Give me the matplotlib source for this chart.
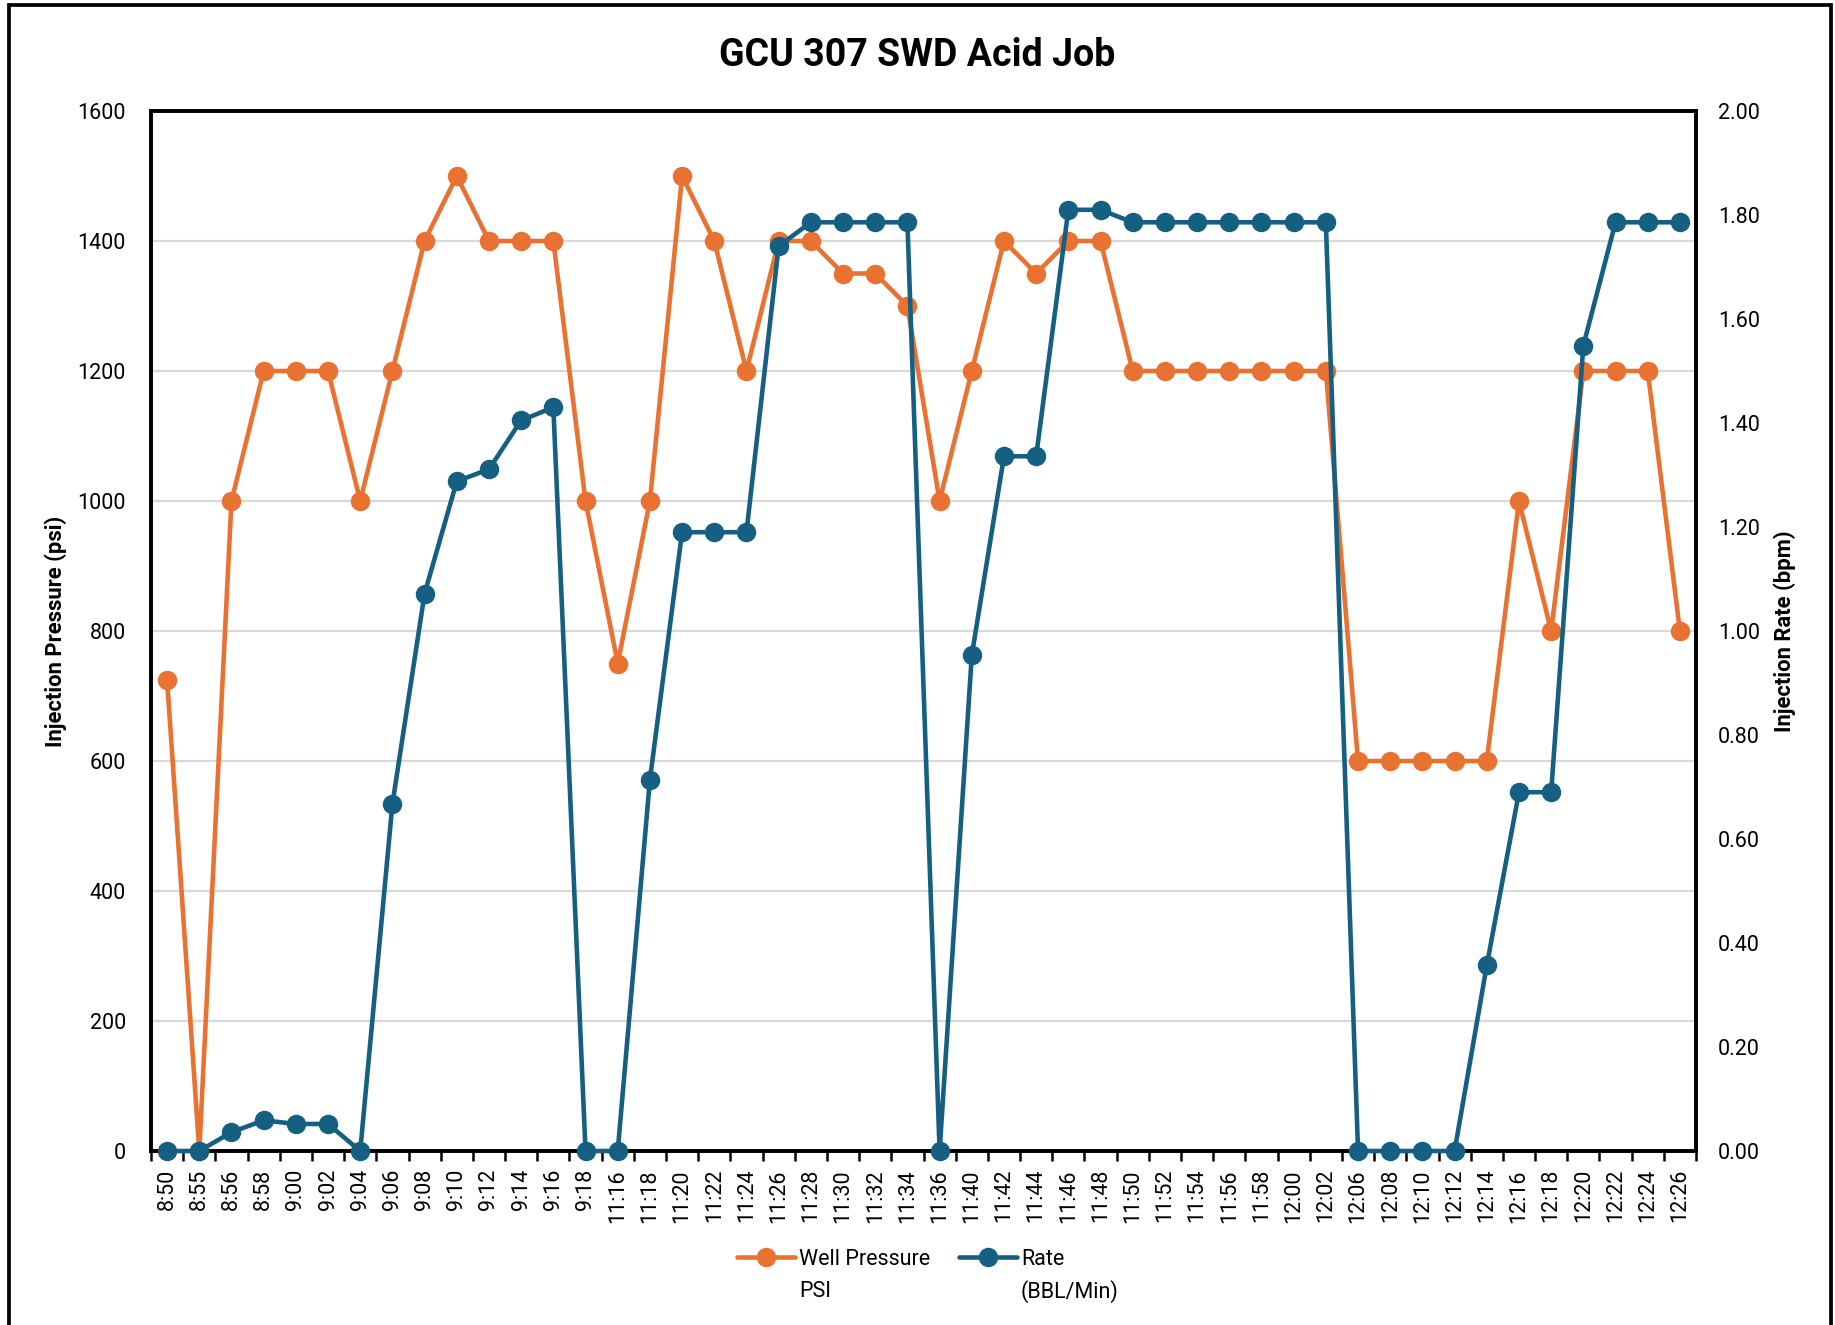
import matplotlib
matplotlib.use("Agg")
import matplotlib.pyplot as plt
import numpy as np
from matplotlib.patches import Rectangle
from matplotlib.ticker import FormatStrFormatter, FixedLocator

times = ["8:50", "8:55", "8:56", "8:58", "9:00", "9:02", "9:04", "9:06", "9:08", "9:10",
         "9:12", "9:14", "9:16", "9:18", "11:16", "11:18", "11:20", "11:22", "11:24", "11:26",
         "11:28", "11:30", "11:32", "11:34", "11:36", "11:40", "11:42", "11:44", "11:46", "11:48",
         "11:50", "11:52", "11:54", "11:56", "11:58", "12:00", "12:02", "12:06", "12:08", "12:10",
         "12:12", "12:14", "12:16", "12:18", "12:20", "12:22", "12:24", "12:26"]

well_pressure = [725, 0, 1000, 1200, 1200, 1200, 1000, 1200, 1400, 1500,
                 1400, 1400, 1400, 1000, 750, 1000, 1500, 1400, 1200, 1400,
                 1400, 1350, 1350, 1300, 1000, 1200, 1400, 1350, 1400, 1400,
                 1200, 1200, 1200, 1200, 1200, 1200, 1200, 600, 600, 600,
                 600, 600, 1000, 800, 1200, 1200, 1200, 800]

rate = [0.0, 0.0, 0.036, 0.059, 0.052, 0.052, 0.0, 0.667, 1.072, 1.288,
        1.311, 1.405, 1.43, 0.0, 0.0, 0.714, 1.19, 1.19, 1.19, 1.74,
        1.786, 1.786, 1.786, 1.786, 0.0, 0.953, 1.336, 1.336, 1.81, 1.81,
        1.786, 1.786, 1.786, 1.786, 1.786, 1.786, 1.786, 0.0, 0.0, 0.0,
        0.0, 0.357, 0.69, 0.69, 1.549, 1.786, 1.786, 1.786]

pressure_ticks = list(range(0, 1601, 200))
rate_ticks = [0.0, 0.2, 0.4, 0.6, 0.8, 1.0, 1.2, 1.4, 1.6, 1.8, 2.0]

ORANGE = "#E97132"
BLUE = "#156082"

plt.rcParams['font.family'] = ['Roboto', 'DejaVu Sans']

W, H = 1835, 1325
fig = plt.figure(figsize=(W / 100, H / 100), dpi=100)
ax_left, ax_right, ax_top, ax_bot = 151, 1696, 111, 1151
ax = fig.add_axes([ax_left / W, 1 - ax_bot / H, (ax_right - ax_left) / W, (ax_bot - ax_top) / H])
ax2 = ax.twinx()

x = np.arange(len(times))
l1, = ax.plot(x, well_pressure, color=ORANGE, lw=3.3, marker='o', ms=13,
              clip_on=False, zorder=3, solid_capstyle='round')
l2, = ax2.plot(x, rate, color=BLUE, lw=3.3, marker='o', ms=13,
               clip_on=False, zorder=3, solid_capstyle='round')

ax.set_xlim(-0.5, len(times) - 0.5)
ax.set_ylim(0, 1600)
ax.set_yticks(pressure_ticks)
ax2.set_ylim(0, 2.0)
ax2.set_yticks(rate_ticks)
ax2.yaxis.set_major_formatter(FormatStrFormatter('%.2f'))

ax.yaxis.grid(True, color='#D9D9D9', lw=1.6)
ax.set_axisbelow(True)

# category ticks between categories, labels at category centers
ax.xaxis.set_major_locator(FixedLocator(np.arange(-0.5, len(times), 1.0)))
ax.xaxis.set_major_formatter(plt.NullFormatter())
ax.xaxis.set_minor_locator(FixedLocator(x))
ax.set_xticks(x, times, minor=True, rotation=90)
ax.tick_params(axis='x', which='major', length=7, width=1.8, color='black', direction='out')
ax.tick_params(axis='x', which='minor', length=0, pad=13, labelsize=15.5)
ax.tick_params(axis='y', length=0, labelsize=15.5, pad=18)
ax2.tick_params(axis='y', length=0, labelsize=15.5, pad=16)

for a in (ax, ax2):
    for s in a.spines.values():
        s.set_linewidth(2.6)
        s.set_color('black')

ax.set_ylabel("Injection Pressure (psi)", fontsize=15.8, fontweight='bold')
ax.yaxis.set_label_coords((67 - ax_left) / (ax_right - ax_left), 0.5)
ax2.set_ylabel("Injection Rate (bpm)", fontsize=15.8, fontweight='bold')
ax2.yaxis.set_label_coords((1773 - ax_left) / (ax_right - ax_left), 0.5)

fig.text(0.5, 1 - 55 / H, "GCU 307 SWD Acid Job", ha='center', va='center',
         fontsize=27, fontweight='bold')

# Outer border
fig.patches.append(Rectangle((9 / W, -0.05), (1830.5 - 9) / W, 1.05 - 5.5 / H,
                             transform=fig.transFigure, fill=False,
                             edgecolor='black', lw=2.7, clip_on=False))

leg = fig.legend([l1, l2], ["Well Pressure", "Rate"], loc='upper left',
                 bbox_to_anchor=(737 / W, 1 - 1249 / H), ncol=2, frameon=False,
                 fontsize=15.5, handlelength=2.7, handletextpad=0.2,
                 columnspacing=1.3, borderpad=0, borderaxespad=0)

fig.canvas.draw()
renderer = fig.canvas.get_renderer()
second_lines = ["PSI", "(BBL/Min)"]
for t, s in zip(leg.get_texts(), second_lines):
    bb = t.get_window_extent(renderer)
    yc = (bb.y0 + bb.y1) / 2
    fig.text(bb.x0 / W, (yc - 32) / H, s, ha='left', va='center', fontsize=15.5)

fig.savefig("out.png", dpi=100)
